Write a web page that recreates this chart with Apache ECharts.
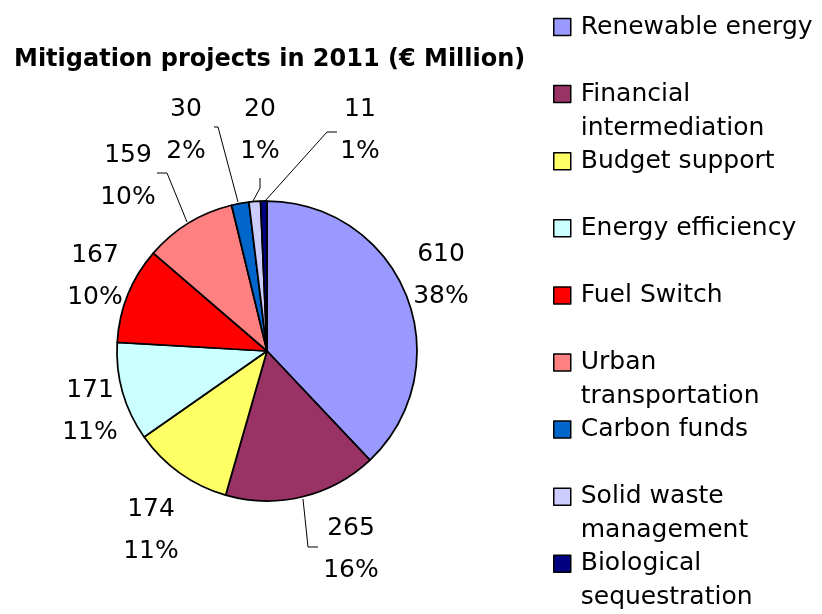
<!DOCTYPE html>
<html>
<head>
<meta charset="utf-8">
<script src="https://cdn.jsdelivr.net/npm/echarts@6/dist/echarts.min.js"></script>
<style>
  html, body { margin: 0; padding: 0; background: #fff; }
  #chart { width: 822px; height: 614px; }
</style>
</head>
<body>
<div id="chart"></div>
<script>
// data
const categories = [
  'Renewable energy', 'Financial intermediation', 'Budget support',
  'Energy efficiency', 'Fuel Switch', 'Urban transportation',
  'Carbon funds', 'Solid waste management', 'Biological sequestration'
];
const values = [610, 265, 174, 171, 167, 159, 30, 20, 11];
const colors = ['#9999FF', '#993366', '#FFFF66', '#CCFFFF', '#FF0000',
  '#FF8080', '#0066CC', '#CCCCFF', '#000080'];

// label placement (layout only)
const labelSpots = [[441, 275], [351, 549], [151, 530], [90, 411], [95, 276],
  [128, 176], [186, 130], [260, 130], [360, 130]];
// leader lines, null = none
const leaders = [
  null,
  [[303, 499], [308, 547], [318, 547]],
  null, null, null,
  [[187, 222], [167, 173], [157, 173]],
  [[238, 202], [218, 127], [214, 127]],
  [[253, 201], [260, 188], [260, 178]],
  [[265, 201], [327, 132], [337, 132]]
];

const FONT = 'DejaVu Sans';

function wrap (name) {
  if (name.length <= 18) return name;
  const k = name.lastIndexOf(' ');
  return '\n' + name.slice(0, k) + '\n' + name.slice(k + 1);
}

const legends = categories.map((name, i) => {
  const cy = 27 + i * 67.1;
  const twoLine = name.length > 18;
  return {
    left: 553,
    top: cy - (twoLine ? 51 : 17),
    orient: 'vertical',
    padding: 0,
    icon: 'rect',
    itemWidth: 17,
    itemHeight: 17,
    data: [name],
    formatter: wrap,
    textStyle: { fontFamily: FONT, fontSize: 25, lineHeight: 34, color: '#000', padding: [0, 0, 0, 5] },
    itemStyle: { borderColor: '#000', borderWidth: 1.5 }
  };
});

const chart = echarts.init(document.getElementById('chart'));
chart.setOption({
  animation: false,
  title: {
    text: 'Mitigation projects in 2011 (€ Million)',
    left: 14,
    top: 48,
    padding: 0,
    textStyle: { fontFamily: FONT, fontSize: 24, fontWeight: 'bold', color: '#000' }
  },
  legend: legends,
  series: [{
    type: 'pie',
    center: [267, 351],
    radius: 150,
    startAngle: 90,
    clockwise: true,
    percentPrecision: 0,
    avoidLabelOverlap: false,
    itemStyle: { borderColor: '#000', borderWidth: 1.75 },
    emphasis: { disabled: true },
    label: {
      show: true,
      position: 'outside',
      formatter: '{c}\n{d}%',
      fontFamily: FONT,
      fontSize: 25,
      lineHeight: 42,
      color: '#000'
    },
    labelLine: { show: true, length: 10, length2: 10, lineStyle: { color: '#000', width: 1 } },
    labelLayout: function (p) {
      const s = labelSpots[p.dataIndex];
      const out = { x: s[0], y: s[1], align: 'center', verticalAlign: 'middle' };
      if (leaders[p.dataIndex]) out.labelLinePoints = leaders[p.dataIndex];
      return out;
    },
    data: categories.map((name, i) => ({
      name: name,
      value: values[i],
      itemStyle: { color: colors[i] },
      labelLine: { show: leaders[i] !== null }
    }))
  }]
});
</script>
</body>
</html>
